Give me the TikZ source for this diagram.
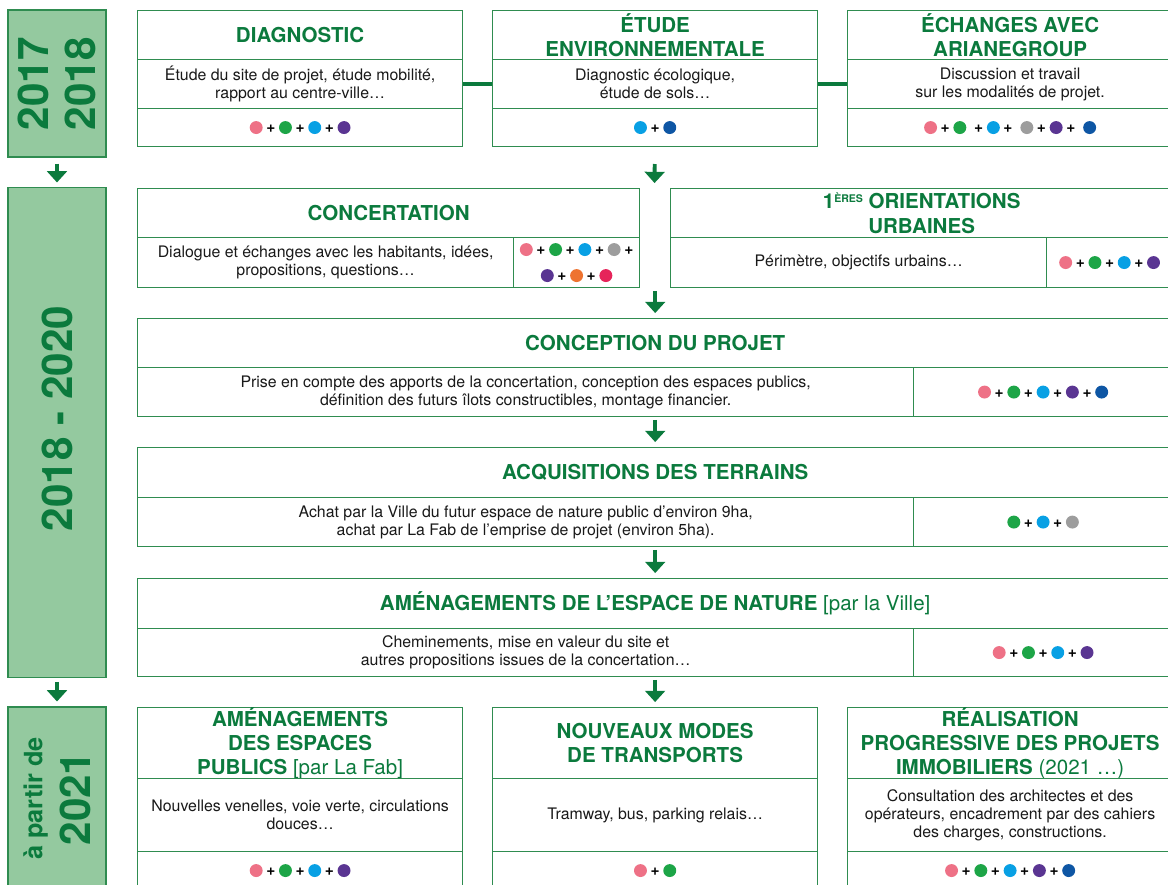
\documentclass[tikz,border=0pt]{standalone}
\usepackage{xcolor}
\usepackage{fontspec}
\setmainfont{TeX Gyre Heros}
\usepackage{tikz}
\usetikzlibrary{arrows.meta}

\definecolor{fabvert}{HTML}{0B7A3D}
\definecolor{fabtrait}{HTML}{2F8C50}
\definecolor{fabfond}{HTML}{94C99F}
\definecolor{c-rose}{HTML}{EE7186}
\definecolor{c-vert}{HTML}{1DA547}
\definecolor{c-ciel}{HTML}{08A0E4}
\definecolor{c-gris}{HTML}{9D9D9D}
\definecolor{c-violet}{HTML}{5A3592}
\definecolor{c-bleu}{HTML}{0E56A4}
\definecolor{c-orange}{HTML}{EE7330}
\definecolor{c-framboise}{HTML}{E6245A}

\newcommand{\pastille}[1]{\tikz[baseline=-3.6pt]\fill[#1] (0,0) circle (4.6pt);}
\newcommand{\ajout}{\hspace{2.6pt}{\bfseries +}\hspace{2.6pt}}
\newcommand{\exposant}[1]{\raisebox{4.6pt}{\fontsize{7.5}{8}\selectfont #1}}

\tikzset{
    cadre/.style={draw=fabtrait, line width=0.8pt, fill=white, anchor=north west, inner sep=0pt, align=center},
    titre/.style={cadre, text=fabvert, font=\fontsize{14.6}{17.2}\selectfont\bfseries},
    texte/.style={cadre, text=black!90, font=\fontsize{11.3}{12.9}\selectfont},
    points/.style={cadre, font=\fontsize{11}{18.5}\selectfont},
    taille/.style 2 args={minimum width=#1cm, minimum height=#2cm},
    annee/.style={draw=fabtrait, line width=0.8pt, fill=fabfond, text=fabvert, rotate=90, align=center, inner sep=0pt, font=\fontsize{30}{34}\selectfont\bfseries},
    lien/.style={draw=fabvert, line width=3.4pt},
    fleche/.style={draw=fabvert, line width=2.8pt, -{Triangle[length=8pt, width=14pt]}, shorten <=2pt, shorten >=3.5pt}
}

\begin{document}
\begin{tikzpicture}[x=0.025cm, y=-0.025cm]
        \useasboundingbox (0, 0) rectangle (1168, 885);
        \clip (0, 0) rectangle (1168, 885);

        \node[annee, minimum width=3.675cm, minimum height=2.45cm] at (57, 83.5) (an1) {2017\\2018};
        \node[annee, minimum width=12.225cm, minimum height=2.45cm] at (57, 432.5) (an2) {\hspace*{20pt}2018 - 2020};
        \node[annee, minimum width=4.575cm, minimum height=2.45cm] at (57, 798.5) (an3) {{\fontsize{18}{20}\selectfont à partir de}\\2021};

        \node[titre, taille={8.125}{1.225}] at (137, 10) (diag) {DIAGNOSTIC};
        \node[texte, taille={8.125}{1.225}] at (137, 59) (diag-txt) {Étude du site de projet, étude mobilité,\\rapport au centre-ville…};
        \node[points, taille={8.125}{0.95}] at (137, 108) (diag-pts) {\pastille{c-rose}\ajout\pastille{c-vert}\ajout\pastille{c-ciel}\ajout\pastille{c-violet}};

        \node[titre, taille={8.125}{1.225}] at (492, 10) (etude) {ÉTUDE\\ENVIRONNEMENTALE};
        \node[texte, taille={8.125}{1.225}] at (492, 59) (etude-txt) {Diagnostic écologique,\\étude de sols…};
        \node[points, taille={8.125}{0.95}] at (492, 108) (etude-pts) {\pastille{c-ciel}\ajout\pastille{c-bleu}};

        \node[titre, taille={8.125}{1.225}] at (847, 10) (echange) {ÉCHANGES AVEC\\ARIANEGROUP};
        \node[texte, taille={8.125}{1.225}] at (847, 59) (echange-txt) {Discussion et travail\\sur les modalités de projet.};
        \node[points, taille={8.125}{0.95}] at (847, 108) (echange-pts) {\pastille{c-rose}\ajout\pastille{c-vert}\hspace{3pt}\ajout\pastille{c-ciel}\ajout\hspace{3pt}\pastille{c-gris}\ajout\pastille{c-violet}\ajout\hspace{3pt}\pastille{c-bleu}};

        \node[titre, taille={12.55}{1.225}] at (137, 188) (concert) {CONCERTATION};
        \node[texte, taille={9.4}{1.25}] at (137, 237) (concert-txt) {Dialogue et échanges avec les habitants, idées,\\propositions, questions…};
        \node[points, taille={3.15}{1.25}] at (513, 237) (concert-pts) {\pastille{c-rose}\ajout\pastille{c-vert}\ajout\pastille{c-ciel}\ajout\pastille{c-gris}\ajout\\\pastille{c-violet}\ajout\pastille{c-orange}\ajout\pastille{c-framboise}};

        \node[titre, taille={12.55}{1.225}] at (670, 188) (orient) {1\exposant{ÈRES} ORIENTATIONS\\URBAINES};
        \node[texte, taille={9.4}{1.25}] at (670, 237) (orient-txt) {Périmètre, objectifs urbains…};
        \node[points, taille={3.15}{1.25}] at (1046, 237) (orient-pts) {\pastille{c-rose}\ajout\pastille{c-vert}\ajout\pastille{c-ciel}\ajout\pastille{c-violet}};

        \node[titre, taille={25.875}{1.225}] at (137, 318) (concep) {CONCEPTION DU PROJET};
        \node[texte, taille={19.4}{1.225}] at (137, 367) (concep-txt) {Prise en compte des apports de la concertation, conception des espaces publics,\\définition des futurs îlots constructibles, montage financier.};
        \node[points, taille={6.475}{1.225}] at (913, 367) (concep-pts) {\pastille{c-rose}\ajout\pastille{c-vert}\ajout\pastille{c-ciel}\ajout\pastille{c-violet}\ajout\pastille{c-bleu}};

        \node[titre, taille={25.875}{1.25}] at (137, 447) (acq) {ACQUISITIONS DES TERRAINS};
        \node[texte, taille={19.4}{1.225}] at (137, 497) (acq-txt) {Achat par la Ville du futur espace de nature public d’environ 9ha,\\achat par La Fab de l’emprise de projet (environ 5ha).};
        \node[points, taille={6.475}{1.225}] at (913, 497) (acq-pts) {\pastille{c-vert}\ajout\pastille{c-ciel}\ajout\pastille{c-gris}};

        \node[titre, taille={25.875}{1.25}] at (137, 578) (nat) {AMÉNAGEMENTS DE L’ESPACE DE NATURE {\mdseries [par la Ville]}};
        \node[texte, taille={19.4}{1.2}] at (137, 628) (nat-txt) {Cheminements, mise en valeur du site et\\autres propositions issues de la concertation…};
        \node[points, taille={6.475}{1.2}] at (913, 628) (nat-pts) {\pastille{c-rose}\ajout\pastille{c-vert}\ajout\pastille{c-ciel}\ajout\pastille{c-violet}};

        \node[titre, taille={8.125}{1.775}] at (137, 707) (pub) {AMÉNAGEMENTS\\DES ESPACES\\PUBLICS {\mdseries [par La Fab]}};
        \node[texte, taille={8.125}{1.825}] at (137, 778) (pub-txt) {Nouvelles venelles, voie verte, circulations\\douces…};
        \node[points, taille={8.125}{0.95}] at (137, 851) (pub-pts) {\pastille{c-rose}\ajout\pastille{c-vert}\ajout\pastille{c-ciel}\ajout\pastille{c-violet}};

        \node[titre, taille={8.125}{1.775}] at (492, 707) (transp) {NOUVEAUX MODES\\DE TRANSPORTS};
        \node[texte, taille={8.125}{1.825}] at (492, 778) (transp-txt) {Tramway, bus, parking relais…};
        \node[points, taille={8.125}{0.95}] at (492, 851) (transp-pts) {\pastille{c-rose}\ajout\pastille{c-vert}};

        \node[titre, taille={8.125}{1.775}] at (847, 707) (immo) {RÉALISATION\\PROGRESSIVE DES PROJETS\\IMMOBILIERS {\mdseries (2021 …)}};
        \node[texte, taille={8.125}{1.825}] at (847, 778) (immo-txt) {Consultation des architectes et des\\opérateurs, encadrement par des cahiers\\des charges, constructions.};
        \node[points, taille={8.125}{0.95}] at (847, 851) (immo-pts) {\pastille{c-rose}\ajout\pastille{c-vert}\ajout\pastille{c-ciel}\ajout\pastille{c-violet}\ajout\pastille{c-bleu}};

        \coordinate (passage) at (654.5, 188);

        \draw[lien] (diag-txt) -- (etude-txt);
        \draw[lien] (etude-txt) -- (echange-txt);
        \draw[fleche, shorten <=4.3pt] (an1) -- (an2);
        \draw[fleche, shorten <=3pt] (an2) -- (an3);
        \draw[fleche, shorten <=12pt] (etude-pts) -- (passage);
        \draw[fleche] (concep.north |- concert-txt.south) -- (concep);
        \draw[fleche] (acq.north |- concep-txt.south) -- (acq);
        \draw[fleche] (nat.north |- acq-txt.south) -- (nat);
        \draw[fleche] (transp.north |- nat-txt.south) -- (transp);
\end{tikzpicture}
\end{document}
